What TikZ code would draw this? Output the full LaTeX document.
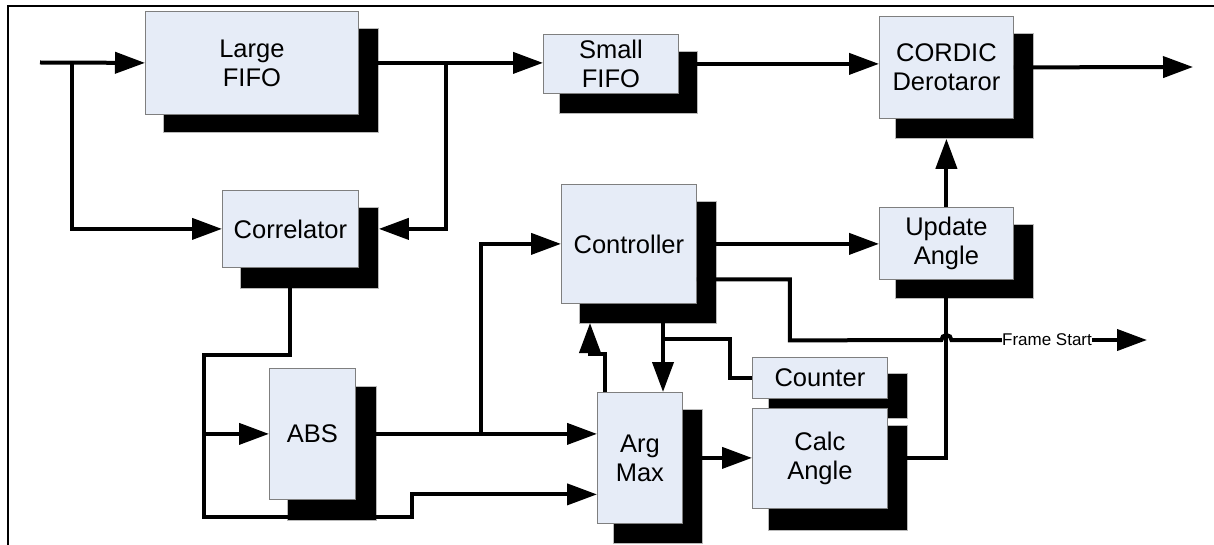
\documentclass[tikz,border=0pt]{standalone}
\usepackage{fontspec}
\setmainfont{Liberation Sans}
\usetikzlibrary{arrows.meta,calc}
\definecolor{boxfill}{HTML}{E6ECF7}
\definecolor{boxline}{HTML}{7F7F7F}
\tikzset{
  blk/.style={draw=boxline, line width=0.8pt, fill=boxfill, anchor=north west,
    inner sep=0pt, align=center, font=\fontsize{25.5}{29}\selectfont},
  shd/.style={draw=gray!55, line width=0.8pt, fill=black, anchor=north west, inner sep=0pt},
  wire/.style={line width=4pt},
  arr/.style={wire, -{Triangle[length=30pt,width=21pt]}},
}
\begin{document}
\begin{tikzpicture}[x=1pt,y=-1pt]
\useasboundingbox (0,0) rectangle (1214,545);
\draw[line width=2pt] (8,545) -- (8,6) -- (1214,6);

% shadows and blocks
\node[shd, minimum width=215pt, minimum height=104pt] (lfS) at (163,28) {};
\node[blk, minimum width=213pt, minimum height=103pt] (lf) at (145,11) {Large\\FIFO};
\node[shd, minimum width=138pt, minimum height=81pt] (corS) at (240,207) {};
\node[blk, minimum width=136pt, minimum height=77pt] (cor) at (222,190) {Correlator};
\node[shd, minimum width=138pt, minimum height=62pt] (sfS) at (559,51) {};
\node[blk, minimum width=135pt, minimum height=59pt] (sf) at (543,34) {Small\\FIFO};
\node[shd, minimum width=138pt, minimum height=105pt] (cdS) at (895,33) {};
\node[blk, minimum width=134pt, minimum height=102pt] (cd) at (879,16) {CORDIC\\Derotaror};
\node[shd, minimum width=138pt, minimum height=74pt] (uaS) at (895,224) {};
\node[blk, minimum width=134pt, minimum height=72pt] (ua) at (879,207) {Update\\Angle};
\node[shd, minimum width=137pt, minimum height=122pt] (ctS) at (579,201) {};
\node[blk, minimum width=135pt, minimum height=119pt] (ct) at (561,184) {Controller};
\node[shd, minimum width=89pt, minimum height=134pt] (absS) at (287,386) {};
\node[blk, minimum width=86pt, minimum height=131pt] (abs) at (269,368) {ABS};
\node[shd, minimum width=89pt, minimum height=134pt] (amS) at (613,409) {};
\node[blk, minimum width=85pt, minimum height=131pt] (am) at (597,392) {Arg\\Max};
\node[shd, minimum width=139pt, minimum height=45pt] (cnS) at (768,373) {};
\node[blk, minimum width=135pt, minimum height=41pt] (cn) at (752,357) {Counter};
\node[shd, minimum width=139pt, minimum height=105pt] (caS) at (768,425) {};
\node[blk, minimum width=135pt, minimum height=100pt] (ca) at (752,408) {Calc\\Angle};

\node[font=\fontsize{17}{20}\selectfont, inner sep=0pt] (fs) at (1047,340) {Frame Start};

\coordinate (in) at (40,62.5);
\coordinate (out) at (1193,67);
\coordinate (fsout) at (1147,340);
\coordinate (ct2) at ($(ct.east)+(0,35.5)$);
\coordinate (ctb) at ($(ct.south west)+(102,0)$);

% connectors
\draw[arr] (in) -- (lf.west);
\draw[arr] ($(in)+(32,0)$) |- (cor.west);
\draw[arr] (lf.east) -- (lf.east -| sf.west);
\draw[arr] ($(lf.east)+(87,0)$) |- (cor.east -| corS.east);
\draw[arr] (sf.east) -- (sf.east -| cd.west);
\draw[arr] (cd.east) -- (out);
\draw[arr] (ua.north) -- (ua.north |- cdS.south);
\draw[arr] (ct.east) -- (ct.east -| ua.west);
\draw[wire] (ca.east) -| (ua.south);
\draw[wire] (ct2) -| ($(ct2)+(93,61)$) -- ($(ua.south |- fs.west)+(-5,0)$)
   arc[start angle=180, end angle=0, radius=5pt] -- (fs.west);
\draw[arr] (fs.east) -- (fsout);
\draw[arr] (abs.east) -- (abs.east -| am.west);
\draw[arr] ($(abs.east)+(125,0)$) |- (ct.west);
\draw[arr] (cor.south) |- ++(-86,87) |- ++(208,162) |- ($(am.west)+(0,36.5)$);
\draw[arr] ($(abs.west)+(-65,0)$) -- (abs.west);
\draw[arr] ($(am.north west)+(8,0)$) |- ++(-15,-38) -- ++(0,-31);
\draw[arr] (ctb) -- (ctb |- am.north);
\draw[wire] ($(ctb)+(0,35)$) -| ($(cn.west)+(-22,0)$) -- (cn.west);
\draw[arr] (am.east) -- (am.east -| ca.west);
\end{tikzpicture}
\end{document}
